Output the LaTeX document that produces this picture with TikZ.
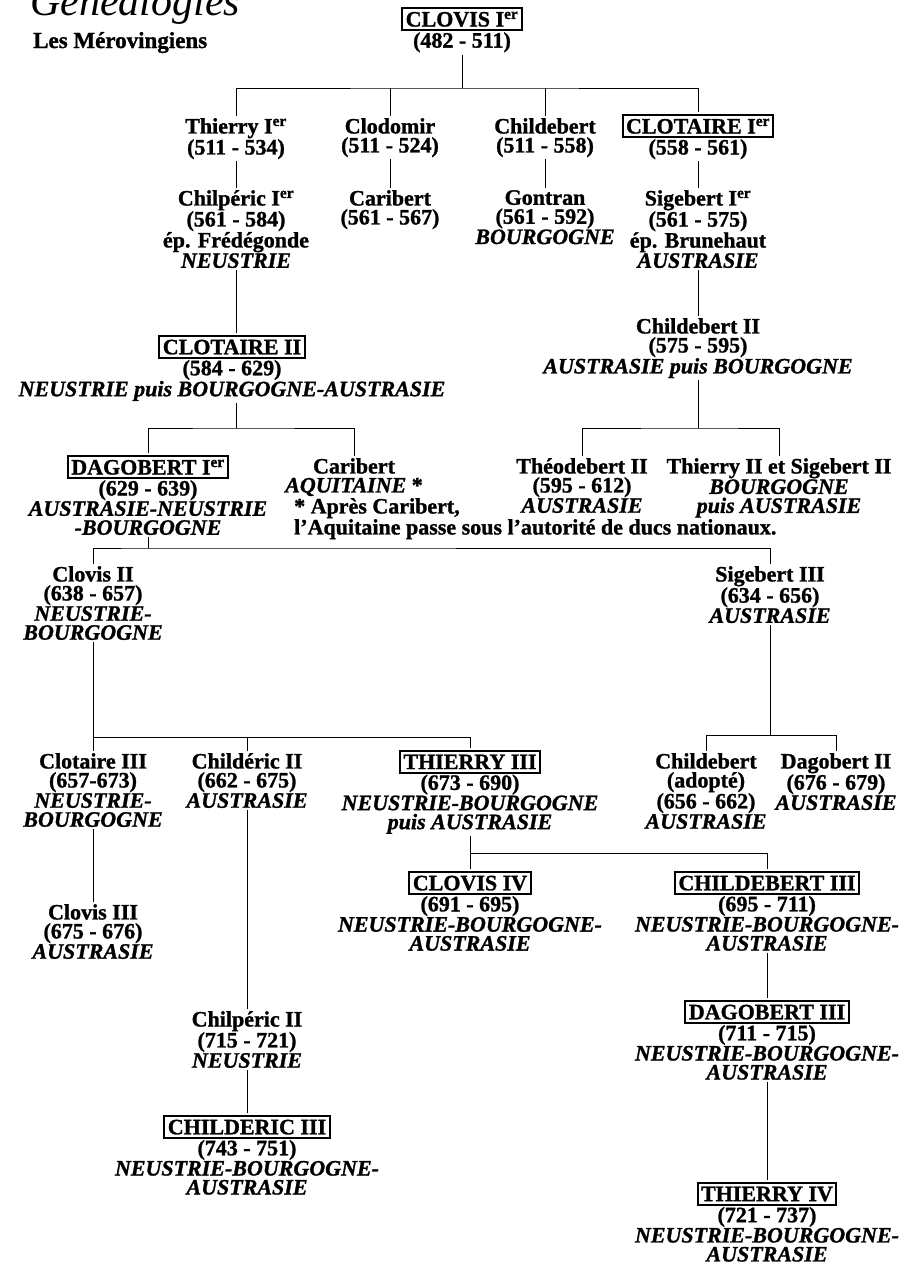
\documentclass[tikz,border=0pt]{standalone}
\usepackage{fontspec}
\setmainfont{Liberation Serif}[BoldFeatures={FakeBold=1.2}, BoldItalicFeatures={FakeBold=1.2}]
\usetikzlibrary{positioning}
\tikzset{-, % plain rules, no tips
line width=2.8pt, % heavy printed rules
every node/.style={font=\bfseries\fontsize{22}{19}\selectfont, align=center, inner sep=2pt}, % names and dates
pers/.style={anchor=north}, % one member of the family
}
\setlength{\fboxrule}{2pt}
\setlength{\fboxsep}{2.5pt}
\newcommand{\roi}[1]{\fbox{#1}} % framed kings
\newcommand{\reg}[1]{\textit{#1}} % kingdom
\newcommand{\er}{\textsuperscript{er}}

\begin{document}
\begin{tikzpicture}[x=1pt, y=-1pt]
\useasboundingbox (0,0) rectangle (901,1267);
\clip (0,0) rectangle (901,1267);
\node[anchor=base west, font=\itshape\fontsize{42}{42}\selectfont] (titre) at (28,15) {Généalogies};
\node[anchor=base west, font=\bfseries\fontsize{23}{23}\selectfont] (soustitre) at (31,48) {Les Mérovingiens};

% Clovis and his sons
\node[pers] (clovisI) at (462,5) {\roi{CLOVIS I\er}\\(482 - 511)};
\node[pers] (thierryI) at (236,116) {Thierry I\er\\(511 - 534)};
\node[pers] (clodomir) at (390,116) {Clodomir\\(511 - 524)};
\node[pers] (childebertI) at (545,116) {Childebert\\(511 - 558)};
\node[pers] (clotaireI) at (698,112) {\roi{CLOTAIRE I\er}\\(558 - 561)};
\coordinate (b1) at (462,88);
\draw (clovisI) -- (b1);
\draw (thierryI) |- (b1) -| (clotaireI);
\draw (clodomir) -- (clodomir |- b1);
\draw (childebertI) -- (childebertI |- b1);

% grandsons
\node[pers] (chilpericI) at (236,188) {Chilpéric I\er\\(561 - 584)\\ép. Frédégonde\\\reg{NEUSTRIE}};
\node[pers] (caribertI) at (390,188) {Caribert\\(561 - 567)};
\node[pers] (gontran) at (545,188) {Gontran\\(561 - 592)\\\reg{BOURGOGNE}};
\node[pers] (sigebertI) at (698,188) {Sigebert I\er\\(561 - 575)\\ép. Brunehaut\\\reg{AUSTRASIE}};
\draw (thierryI) -- (chilpericI);
\draw (clodomir) -- (caribertI);
\draw (childebertI) -- (gontran);
\draw (clotaireI) -- (sigebertI);

\node[pers] (clotaireII) at (232,333) {\roi{CLOTAIRE II}\\(584 - 629)\\\reg{NEUSTRIE puis BOURGOGNE-AUSTRASIE}};
\node[pers] (childebertII) at (698,316) {Childebert II\\(575 - 595)\\\reg{AUSTRASIE puis BOURGOGNE}};
\draw (chilpericI) -- (chilpericI |- clotaireII.north);
\draw (sigebertI) -- (childebertII);

\node[pers] (dagobertI) at (148,453) {\roi{DAGOBERT I\er}\\(629 - 639)\\\reg{AUSTRASIE-NEUSTRIE}\\\reg{-BOURGOGNE}};
\node[pers] (caribertII) at (354,456) {Caribert\\\reg{AQUITAINE} *};
\coordinate (b2) at (236,428);
\draw (clotaireII.south -| b2) -- (b2);
\draw (dagobertI) |- (b2) -| (caribertII);

\node[pers] (theodebertII) at (582,456) {Théodebert II\\(595 - 612)\\\reg{AUSTRASIE}};
\node[pers] (thierryII) at (779,456) {Thierry II et Sigebert II\\\reg{BOURGOGNE}\\\reg{puis AUSTRASIE}};
\coordinate (b3) at (698,428);
\draw (childebertII) -- (b3);
\draw (theodebertII) |- (b3) -| (thierryII);

\node[anchor=north west, align=left] (note) at (292,496) {* Après Caribert,\\l'Aquitaine passe sous l'autorité de ducs nationaux.};

% sons of Dagobert
\node[pers] (clovisII) at (93,564) {Clovis II\\(638 - 657)\\\reg{NEUSTRIE-}\\\reg{BOURGOGNE}};
\node[pers] (sigebertIII) at (770,564) {Sigebert III\\(634 - 656)\\\reg{AUSTRASIE}};
\coordinate (b4) at (148,548);
\draw (dagobertI) -- (b4);
\draw (clovisII) |- (b4) -| (sigebertIII);

\node[pers] (clotaireIII) at (93,751) {Clotaire III\\(657-673)\\\reg{NEUSTRIE-}\\\reg{BOURGOGNE}};
\node[pers] (childericII) at (247,751) {Childéric II\\(662 - 675)\\\reg{AUSTRASIE}};
\node[pers] (thierryIII) at (470,748) {\roi{THIERRY III}\\(673 - 690)\\\reg{NEUSTRIE-BOURGOGNE}\\\reg{puis AUSTRASIE}};
\coordinate (b5) at (93,737);
\draw (clovisII) -- (b5);
\draw (clotaireIII) -- (b5) -| (thierryIII);
\draw (childericII) -- (childericII |- b5);

\node[pers] (childebertAd) at (706,751) {Childebert\\(adopté)\\(656 - 662)\\\reg{AUSTRASIE}};
\node[pers] (dagobertII) at (836,751) {Dagobert II\\(676 - 679)\\\reg{AUSTRASIE}};
\coordinate (b6) at (770,735);
\draw (sigebertIII) -- (b6);
\draw (childebertAd) |- (b6) -| (dagobertII);

\node[pers] (clovisIII) at (93,902) {Clovis III\\(675 - 676)\\\reg{AUSTRASIE}};
\draw (clotaireIII) -- (clovisIII);

\node[pers] (chilpericII) at (247,1009) {Chilpéric II\\(715 - 721)\\\reg{NEUSTRIE}};
\node[pers] (childericIII) at (247,1113) {\roi{CHILDERIC III}\\(743 - 751)\\\reg{NEUSTRIE-BOURGOGNE-}\\\reg{AUSTRASIE}};
\draw (childericII) -- (chilpericII);
\draw (chilpericII) -- (childericIII);

% sons of Thierry III
\node[pers] (clovisIV) at (470,869) {\roi{CLOVIS IV}\\(691 - 695)\\\reg{NEUSTRIE-BOURGOGNE-}\\\reg{AUSTRASIE}};
\node[pers] (childebertIII) at (767,869) {\roi{CHILDEBERT III}\\(695 - 711)\\\reg{NEUSTRIE-BOURGOGNE-}\\\reg{AUSTRASIE}};
\coordinate (b7) at (470,853);
\draw (thierryIII) -- (b7) -| (childebertIII);
\draw (b7) -- (clovisIV);

\node[pers] (dagobertIII) at (767,998) {\roi{DAGOBERT III}\\(711 - 715)\\\reg{NEUSTRIE-BOURGOGNE-}\\\reg{AUSTRASIE}};
\node[pers] (thierryIV) at (767,1180) {\roi{THIERRY IV}\\(721 - 737)\\\reg{NEUSTRIE-BOURGOGNE-}\\\reg{AUSTRASIE}};
\draw (childebertIII) -- (dagobertIII);
\draw (dagobertIII) -- (thierryIV);
\end{tikzpicture}
\end{document}
